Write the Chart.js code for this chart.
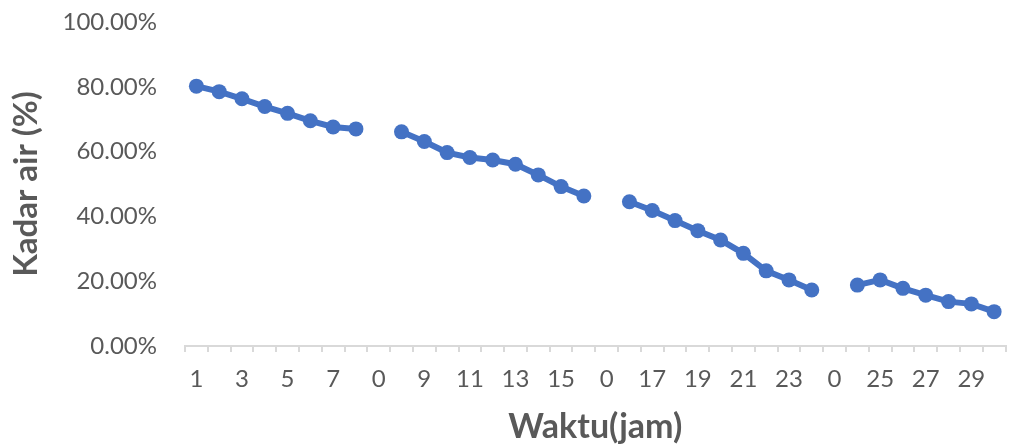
<!DOCTYPE html>
<html>
<head>
<meta charset="utf-8">
<script src="https://cdn.jsdelivr.net/npm/chart.js@4/dist/chart.umd.min.js"></script>
<style>
  html, body { margin: 0; padding: 0; background: #fff; }
  #wrap { width: 1013px; height: 445px; }
</style>
</head>
<body>
<div id="wrap"><canvas id="myChart"></canvas></div>
<script>
// categories as they sit on the sheet: blank rows labelled 0 break the line
const labels = ['1','2','3','4','5','6','7','8','0',
  '8','9','10','11','12','13','14','15','16','0',
  '16','17','18','19','20','21','22','23','24','0',
  '24','25','26','27','28','29','30'];

// kadar air (%), null = gap
const kadarAir = [80.2, 78.5, 76.3, 73.9, 71.8, 69.5, 67.6, 67.0, null,
  66.1, 63.1, 59.7, 58.2, 57.4, 56.1, 52.8, 49.2, 46.3, null,
  44.5, 41.8, 38.7, 35.6, 32.7, 28.6, 23.2, 20.4, 17.3, null,
  18.8, 20.4, 17.8, 15.7, 13.7, 13.0, 10.6];

const yTicks = [0, 20, 40, 60, 80, 100];

const blue = '#4472C4';
const grey = '#595959';
const fontName = 'Lato, "Liberation Sans", sans-serif';

var ctx = document.getElementById('myChart');

var myChart = new Chart(ctx, {
  type: 'line',
  data: {
    labels: labels,
    datasets: [{
      label: 'Kadar air',
      data: kadarAir,
      borderColor: blue,
      backgroundColor: blue,
      borderWidth: 6,
      pointRadius: 7.5,
      pointBackgroundColor: blue,
      pointBorderColor: blue,
      pointBorderWidth: 0,
      spanGaps: false,
      tension: 0
    }]
  },
  options: {
    responsive: true,
    maintainAspectRatio: false,
    animation: false,
    layout: { padding: 0 },
    plugins: {
      legend: { display: false },
      tooltip: { enabled: false }
    },
    scales: {
      x: {
        offset: true,
        afterFit: function (scale) { scale.height = 99; },
        grid: {
          display: true,
          offset: true,
          drawOnChartArea: false,
          drawTicks: true,
          tickLength: 6,
          color: '#d9d9d9',
          lineWidth: 2
        },
        border: { display: true, color: '#d9d9d9', width: 2 },
        ticks: {
          autoSkip: false,
          maxRotation: 0,
          minRotation: 0,
          padding: 13,
          color: grey,
          font: { family: fontName, size: 24 },
          callback: function (val, i) { return i % 2 === 0 ? labels[i] : ''; }
        },
        title: {
          display: true,
          text: 'Waktu(jam)',
          color: grey,
          font: { family: fontName, size: 34, weight: 'bold' },
          padding: { top: 0, bottom: -2 }
        }
      },
      y: {
        min: 0,
        max: 100,
        afterFit: function (scale) {
          scale.width = 185;
          scale.paddingTop = 22;
          scale.paddingBottom = 0;
        },
        afterBuildTicks: function (scale) {
          scale.ticks = yTicks.map(function (v) { return { value: v }; });
        },
        grid: { display: false },
        border: { display: false },
        ticks: {
          padding: 20,
          color: grey,
          font: { family: fontName, size: 24 },
          callback: function (v) { return v.toFixed(2) + '%'; }
        },
        title: {
          display: true,
          text: 'Kadar air (%)',
          color: grey,
          font: { family: fontName, size: 33, weight: 'bold' },
          padding: { top: 7, bottom: 0 }
        }
      }
    }
  }
});
</script>
</body>
</html>
